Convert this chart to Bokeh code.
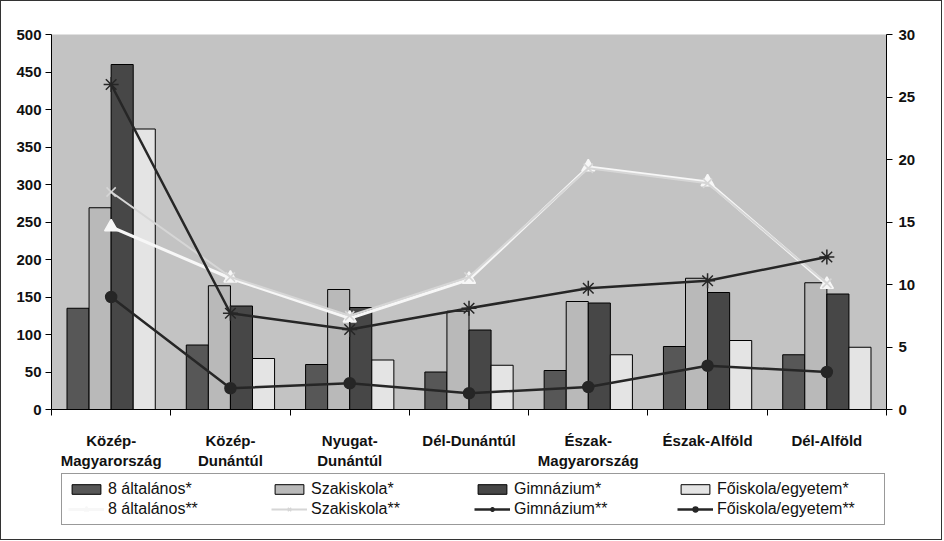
from bokeh.plotting import figure
from bokeh.layouts import column
from bokeh.models import Range1d, LinearAxis, FixedTicker, Legend, LegendItem, ColumnDataSource
from bokeh.transform import dodge
from bokeh.embed import file_html
from bokeh.resources import INLINE

regions = ["Közép-\nMagyarország", "Közép-\nDunántúl", "Nyugat-\nDunántúl", "Dél-Dunántúl",
           "Észak-\nMagyarország", "Észak-Alföld", "Dél-Alföld"]
alt8_bar = [135, 86, 60, 50, 52, 84, 73]
szak_bar = [269, 165, 160, 131, 144, 175, 169]
gimn_bar = [460, 138, 136, 106, 142, 156, 154]
foisk_bar = [374, 68, 66, 59, 73, 92, 83]
alt8_line = [14.6, 10.5, 7.3, 10.4, 19.4, 18.2, 10.0]
szak_line = [17.4, 10.6, 7.5, 10.6, 19.3, 18.1, 10.1]
gimn_line = [26.0, 7.7, 6.4, 8.1, 9.7, 10.3, 12.2]
foisk_line = [9.0, 1.7, 2.1, 1.3, 1.8, 3.5, 3.0]
left_ticks = list(range(0, 501, 50))
right_ticks = list(range(0, 31, 5))
legend_labels = ["8 általános*", "Szakiskola*", "Gimnázium*", "Főiskola/egyetem*",
                 "8 általános**", "Szakiskola**", "Gimnázium**", "Főiskola/egyetem**"]

n = len(regions)
centers = [i + 0.5 for i in range(n)]
src = ColumnDataSource(dict(x=centers, a8=alt8_bar, sz=szak_bar, gi=gimn_bar, fo=foisk_bar,
                            la8=alt8_line, lsz=szak_line, lgi=gimn_line, lfo=foisk_line))

FONT = "Liberation Sans"

p = figure(width=940, height=470, output_backend="svg", toolbar_location=None,
           x_range=Range1d(0, n), y_range=Range1d(0, 500),
           min_border_left=50, min_border_right=55, min_border_top=33, min_border_bottom=62,
           x_axis_location=None, y_axis_location=None)
p.frame_width = 835
p.frame_height = 375
p.background_fill_color = "#c3c3c3"
p.border_fill_color = "white"
p.outline_line_color = None
p.grid.visible = False

p.extra_y_ranges = {"r": Range1d(0, 30)}

# axes
xa = LinearAxis(ticker=FixedTicker(ticks=centers, minor_ticks=list(range(n + 1))))
xa.major_label_overrides = {c: r for c, r in zip(centers, regions)}
xa.major_tick_line_color = None
xa.minor_tick_line_color = "black"
xa.minor_tick_in = 0
xa.minor_tick_out = 6
xa.axis_line_color = "black"
xa.major_label_standoff = 16
xa.major_label_text_font = FONT
xa.major_label_text_font_style = "bold"
xa.major_label_text_font_size = "15px"
xa.major_label_text_color = "#111"
p.add_layout(xa, "below")

ya = LinearAxis(ticker=FixedTicker(ticks=left_ticks, minor_ticks=[]))
ya.major_tick_in = 0
ya.major_tick_out = 6
ya.minor_tick_line_color = None
ya.major_label_text_font = FONT
ya.major_label_text_font_style = "bold"
ya.major_label_text_font_size = "15px"
ya.major_label_text_color = "#111"
ya.major_label_standoff = 4
p.add_layout(ya, "left")

ra = LinearAxis(y_range_name="r", ticker=FixedTicker(ticks=right_ticks, minor_ticks=[]))
ra.major_tick_in = 0
ra.major_tick_out = 6
ra.minor_tick_line_color = None
ra.major_label_text_font = FONT
ra.major_label_text_font_style = "bold"
ra.major_label_text_font_size = "15px"
ra.major_label_text_color = "#111"
ra.major_label_standoff = 6
p.add_layout(ra, "right")

bw = 0.185
offs = [-1.5 * bw, -0.5 * bw, 0.5 * bw, 1.5 * bw]
cols = ["#575757", "#b9b9b9", "#474747", "#e4e4e4"]
keys = ["a8", "sz", "gi", "fo"]
for k, o, c in zip(keys, offs, cols):
    p.vbar(x=dodge("x", o, range=p.x_range), top=k, width=bw, source=src,
           fill_color=c, line_color="black", line_width=1)

line_styles = [
    dict(key="la8", color="#f7f7f7", width=3, marker="triangle", size=13, fill="#f7f7f7"),
    dict(key="lsz", color="#d6d6d6", width=2, marker="x", size=13, fill=None),
    dict(key="lgi", color="#262626", width=2.5, marker="asterisk", size=15, fill=None),
    dict(key="lfo", color="#262626", width=2.5, marker="circle", size=11, fill="#262626"),
]
for s in line_styles:
    p.line("x", s["key"], source=src, y_range_name="r", line_color=s["color"], line_width=s["width"])
    p.scatter("x", s["key"], source=src, y_range_name="r", marker=s["marker"], size=s["size"],
              fill_color=s["fill"], line_color=s["color"], line_width=1.5)

# legend panel: a second figure whose renderers hold no drawable data (NaN), used only as swatches
lf = figure(width=940, height=68, output_backend="svg", toolbar_location=None,
            x_range=Range1d(0, 1), y_range=Range1d(0, 1),
            min_border_left=0, min_border_right=0, min_border_top=0, min_border_bottom=0,
            x_axis_location=None, y_axis_location=None)
lf.outline_line_color = None
lf.grid.visible = False
lf.background_fill_color = "white"
lf.border_fill_color = "white"

nan = float("nan")
dummy = ColumnDataSource(dict(x=[nan], y=[nan]))
items = []
for lab, c in zip(legend_labels[:4], cols):
    r = lf.vbar(x="x", top="y", width=0.1, source=dummy, fill_color=c, line_color="black", line_width=1)
    items.append(LegendItem(label=lab, renderers=[r]))
for lab, s in zip(legend_labels[4:], line_styles):
    rl = lf.line("x", "y", source=dummy, line_color=s["color"], line_width=s["width"])
    rm = lf.scatter("x", "y", source=dummy, marker=s["marker"], size=s["size"],
                    fill_color=s["fill"], line_color=s["color"], line_width=1.5)
    items.append(LegendItem(label=lab, renderers=[rl, rm]))

leg = Legend(items=items, location=(10, 14), orientation="horizontal", ncols=4,
             glyph_width=36, glyph_height=12, label_standoff=4, label_width=161,
             label_height=18, spacing=2, padding=6, margin=0,
             label_text_font=FONT, label_text_font_size="16px", label_text_color="#111",
             border_line_color="#333", border_line_width=1,
             background_fill_color="white", background_fill_alpha=1)
lf.add_layout(leg, "center")

lay = column(p, lf, spacing=0, styles={"border": "1px solid #333"})

open("out.html", "w").write(file_html(lay, INLINE))
